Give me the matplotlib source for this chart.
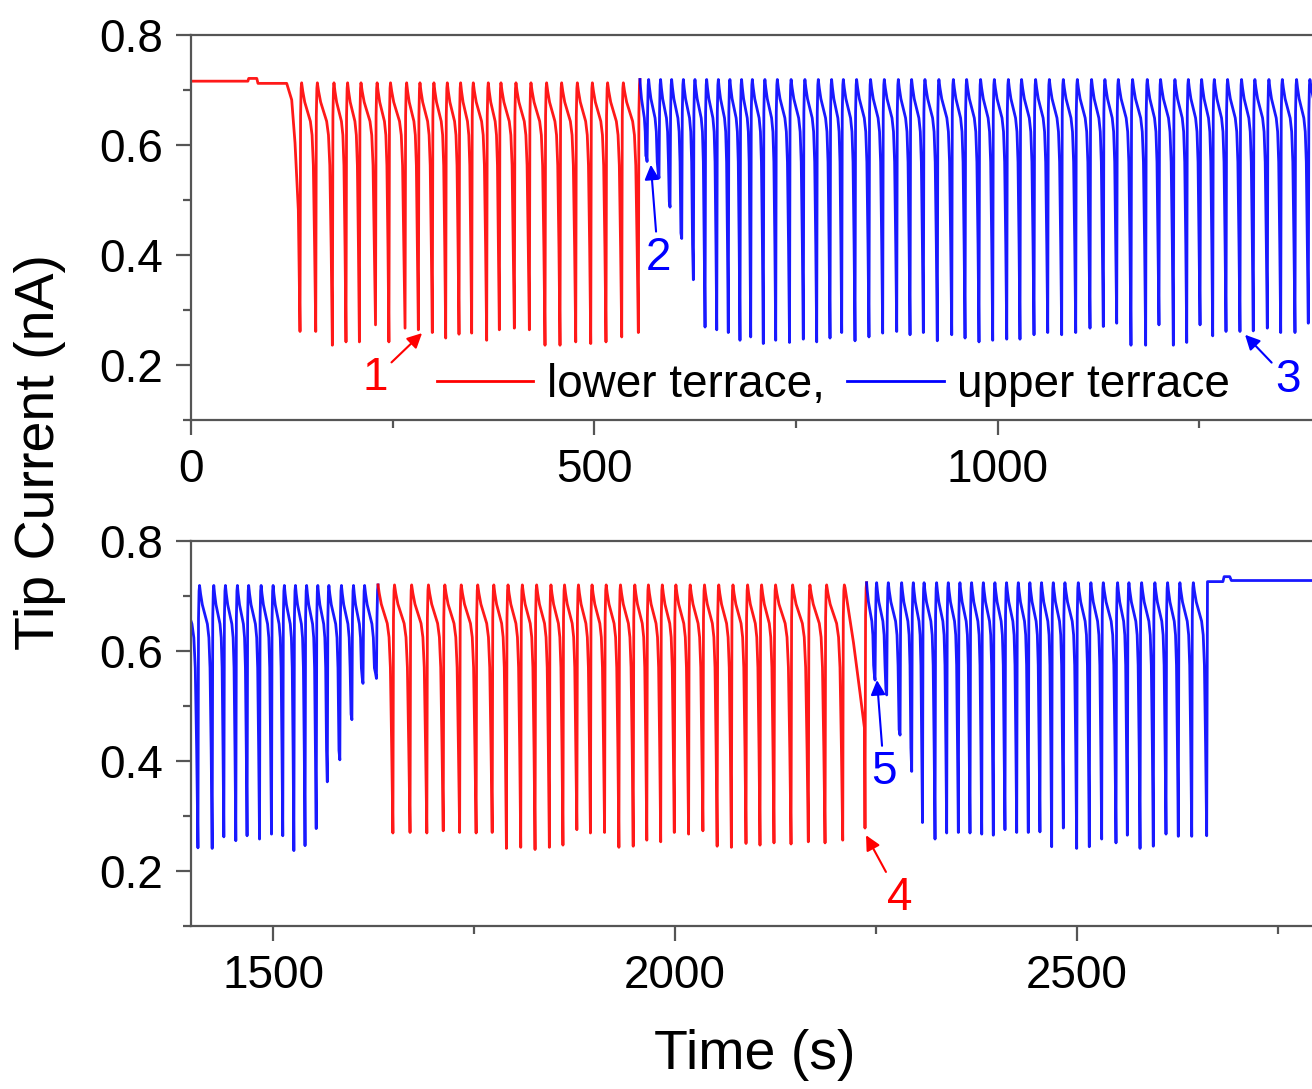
import matplotlib
matplotlib.use('Agg')
import matplotlib.pyplot as plt
from matplotlib.ticker import MultipleLocator
from matplotlib.lines import Line2D

plt.rcParams['font.family'] = ['Liberation Sans', 'DejaVu Sans']

RED = '#ff0000'
BLUE = '#0000ff'
GREY = '#555555'

# ---- data ----------------------------------------------------------------
# flat start before the first approach (lower terrace)
lead_t = [0, 70.5, 71.5, 81.5, 83, 118.6, 124.8, 128.9, 133.0]
lead_v = [0.716, 0.716, 0.721, 0.721, 0.712, 0.712, 0.682, 0.604, 0.482]

# spike bottoms: time (s) and current (nA)
red1_t = [135.1, 154.6, 175.2, 192.1, 208.7, 228.7, 245.3, 265.3, 281.8, 299.1,
          315.7, 332.2, 347.9, 366.5, 382.2, 400.8, 419.4, 438.8, 457.4, 476.9,
          495.5, 514.4, 533.9, 554.5]
red1_v = [0.261, 0.261, 0.236, 0.242, 0.242, 0.273, 0.242, 0.267, 0.264, 0.259,
          0.249, 0.256, 0.258, 0.245, 0.264, 0.267, 0.264, 0.236, 0.236, 0.242,
          0.239, 0.242, 0.251, 0.259]

blue1_t = [565.3, 580.1, 593.8, 608.3, 622.7, 637.2, 651.7, 666.0, 680.5, 693.8,
           709.4, 724.8, 741.9, 759.0, 775.6, 792.1, 806.6, 823.1, 840.4, 857.4,
           874.8, 891.3, 907.8, 925.1, 943.0, 959.5, 976.8, 993.8, 1011.2, 1027.6,
           1045.0, 1062.0, 1079.3, 1096.7, 1114.4, 1130.9, 1147.5, 1165.2, 1183.4, 1199.9,
           1217.7, 1234.3, 1250.8, 1266.5, 1283.0, 1300.3, 1316.8, 1334.2, 1350.8, 1368.5,
           1385.0,
           1406.6, 1424.3, 1438.8, 1453.7, 1467.7, 1483.2, 1498.1, 1512.1, 1525.9, 1539.8,
           1553.7, 1567.5, 1583.1, 1598.1, 1611.9, 1628.6]
blue1_v = [0.57, 0.54, 0.487, 0.43, 0.355, 0.269, 0.264, 0.259, 0.245, 0.251,
           0.239, 0.245, 0.241, 0.247, 0.242, 0.249, 0.259, 0.244, 0.251, 0.258,
           0.261, 0.255, 0.259, 0.244, 0.255, 0.249, 0.242, 0.245, 0.247, 0.247,
           0.255, 0.259, 0.255, 0.259, 0.267, 0.270, 0.276, 0.236, 0.236, 0.273,
           0.236, 0.241, 0.273, 0.253, 0.261, 0.261, 0.262, 0.267, 0.259, 0.259,
           0.276,
           0.242, 0.241, 0.262, 0.255, 0.264, 0.258, 0.267, 0.264, 0.237, 0.246,
           0.277, 0.362, 0.402, 0.475, 0.541, 0.550]

red2_t = [1649.1, 1670.4, 1691.3, 1711.7, 1732.1, 1752.6, 1772.6, 1790.3, 1808.1, 1825.9,
          1843.7, 1860.6, 1877.9, 1894.8, 1912.4, 1930.2, 1948.0, 1964.9, 1982.2, 1999.1,
          2016.9, 2034.7, 2052.4, 2070.1, 2088.3, 2105.7, 2123.1, 2144.3, 2165.8, 2186.6,
          2208.6, 2236.3]
red2_v = [0.269, 0.270, 0.269, 0.273, 0.270, 0.269, 0.270, 0.241, 0.243, 0.239,
          0.243, 0.247, 0.275, 0.269, 0.270, 0.243, 0.245, 0.256, 0.253, 0.270,
          0.267, 0.273, 0.245, 0.243, 0.250, 0.247, 0.251, 0.249, 0.253, 0.251,
          0.256, 0.278]
# slow slide into spike 4
red2_last_t = [2211.5, 2222.0, 2230.0, 2235.6]
red2_last_v = [0.715, 0.615, 0.525, 0.460]

blue2_t = [2248.8, 2263.3, 2279.9, 2294.4, 2307.8, 2323.4, 2337.9, 2352.4, 2366.9, 2381.5,
           2395.9, 2410.4, 2425.0, 2439.4, 2453.9, 2468.5, 2483.0, 2499.6, 2515.3, 2530.7,
           2548.5, 2562.6, 2578.4, 2594.9, 2610.7, 2626.0, 2642.7, 2661.3]
blue2_v = [0.547, 0.520, 0.447, 0.381, 0.288, 0.258, 0.269, 0.270, 0.269, 0.267,
           0.265, 0.275, 0.270, 0.270, 0.271, 0.244, 0.278, 0.241, 0.244, 0.258,
           0.251, 0.265, 0.241, 0.245, 0.267, 0.263, 0.263, 0.264]

# retract and hold at the end
tail_t = [2662.3, 2681.5, 2683.0, 2690.0, 2692.0, 2800.0]
tail_v = [0.726, 0.726, 0.735, 0.735, 0.728, 0.728]

peak_red1, peak_blue, peak_red2, peak_blue2 = 0.713, 0.719, 0.720, 0.724

# one approach cycle seen in the trace: fraction of the descent, drop below the top
cyc_f = [0.08, 0.22, 0.45, 0.62, 0.74, 0.83, 0.92]
cyc_dv = [0.015, 0.035, 0.055, 0.070, 0.095, 0.150, 0.300]
# retract: seconds after the bottom, drop below the top
rise_dt = [0.7, 1.4, 2.0]
rise_dv = [0.060, 0.010, 0.0]


def descent(tp, peak, tb, vb):
    ts = [tp + f * (tb - tp) for f in cyc_f]
    vs = [max(peak - dv, vb + 0.01) for dv in cyc_dv]
    return ts + [tb], vs + [vb]


def rise(tb, peak):
    return [tb + d for d in rise_dt], [peak - d for d in rise_dv]


def block(start_t, start_v, bt, bv, peak, next_peak, last=None):
    ts, vs = list(start_t), list(start_v)
    for i in range(len(bt)):
        if i == 0 and len(start_t) > 1:
            ts.append(bt[0]); vs.append(bv[0])
            continue
        if i > 0:
            a, b = rise(bt[i - 1], peak)
            ts += a; vs += b
        if i == len(bt) - 1 and last is not None:
            ts += list(last[0]) + [bt[i]]
            vs += list(last[1]) + [bv[i]]
            continue
        a, b = descent(ts[-1], vs[-1], bt[i], bv[i])
        ts += a; vs += b
    a, b = rise(bt[-1], next_peak)
    return ts + a, vs + b


r1 = block(lead_t, lead_v, red1_t, red1_v, peak_red1, peak_blue)
b1 = block([r1[0][-1]], [r1[1][-1]], blue1_t, blue1_v, peak_blue, peak_red2)
r2 = block([b1[0][-1]], [b1[1][-1]], red2_t, red2_v, peak_red2, peak_blue2,
           last=(red2_last_t, red2_last_v))
b2 = block([r2[0][-1]], [r2[1][-1]], blue2_t, blue2_v, peak_blue2, tail_v[0])
b2 = (b2[0][:-3] + tail_t, b2[1][:-3] + tail_v)

traces = [(r1, RED), (b1, BLUE), (r2, RED), (b2, BLUE)]

# ---- figure ---------------------------------------------------------------
fig = plt.figure(figsize=(13.12, 10.89), dpi=100)
ax1 = fig.add_axes([0.1456, 0.6143, 0.8544, 0.3536])
ax2 = fig.add_axes([0.1456, 0.1497, 0.8544, 0.3536])

for ax, xl, maj in [(ax1, (0, 1389.6), 500), (ax2, (1398, 2792.3), 500)]:
    for (t, v), c in traces:
        ax.plot(t, v, color=c, lw=2.0, solid_joinstyle='round', alpha=0.9)
    ax.set_xlim(*xl)
    ax.set_ylim(0.1, 0.8)
    ax.xaxis.set_major_locator(MultipleLocator(maj))
    ax.xaxis.set_minor_locator(MultipleLocator(maj / 2))
    ax.yaxis.set_major_locator(MultipleLocator(0.2))
    ax.yaxis.set_minor_locator(MultipleLocator(0.1))
    ax.yaxis.set_major_formatter(plt.FormatStrFormatter('%.1f'))
    ax.spines['right'].set_visible(False)
    for s in ('left', 'bottom', 'top'):
        ax.spines[s].set_color(GREY)
        ax.spines[s].set_linewidth(1.6)
    ax.tick_params(which='major', direction='out', length=11, width=1.6,
                   color=GREY, labelsize=33, pad=9)
    ax.tick_params(which='minor', direction='out', length=6, width=1.6, color=GREY)
    ax.tick_params(top=False, right=False, which='both')

# legend inside the upper panel
handles = [Line2D([], [], color=RED, lw=2.0), Line2D([], [], color=BLUE, lw=2.0)]
ax1.legend(handles, ['lower terrace,', 'upper terrace'], ncol=2, frameon=False,
           fontsize=33, handlelength=2.1, handletextpad=0.3, columnspacing=0.5,
           borderpad=0, borderaxespad=0, loc='center left',
           bbox_to_anchor=(0.219, 0.09))

arrow = dict(arrowstyle='-|>', lw=1.5, mutation_scale=22, shrinkA=1, shrinkB=0)
notes = [(ax1, '1', (286.4, 0.258), (228, 0.176), RED),
         (ax1, '2', (570, 0.564), (579, 0.395), BLUE),
         (ax1, '3', (1306.6, 0.255), (1360, 0.173), BLUE),
         (ax2, '4', (2237.6, 0.265), (2279.9, 0.151), RED),
         (ax2, '5', (2251.2, 0.547), (2260, 0.38), BLUE)]
for ax, s, xy, xt, c in notes:
    ax.annotate(s, xy=xy, xytext=xt, color=c, fontsize=33, ha='center',
                va='center', arrowprops=dict(arrow, color=c), annotation_clip=False)

fig.text(40 / 1312, 1 - 452 / 1089, 'Tip Current (nA)', rotation=90,
         ha='center', va='center', fontsize=40)
fig.text(755 / 1312, 1 - 1055 / 1089, 'Time (s)', ha='center', va='center',
         fontsize=40)

fig.savefig('out.png', dpi=100)
